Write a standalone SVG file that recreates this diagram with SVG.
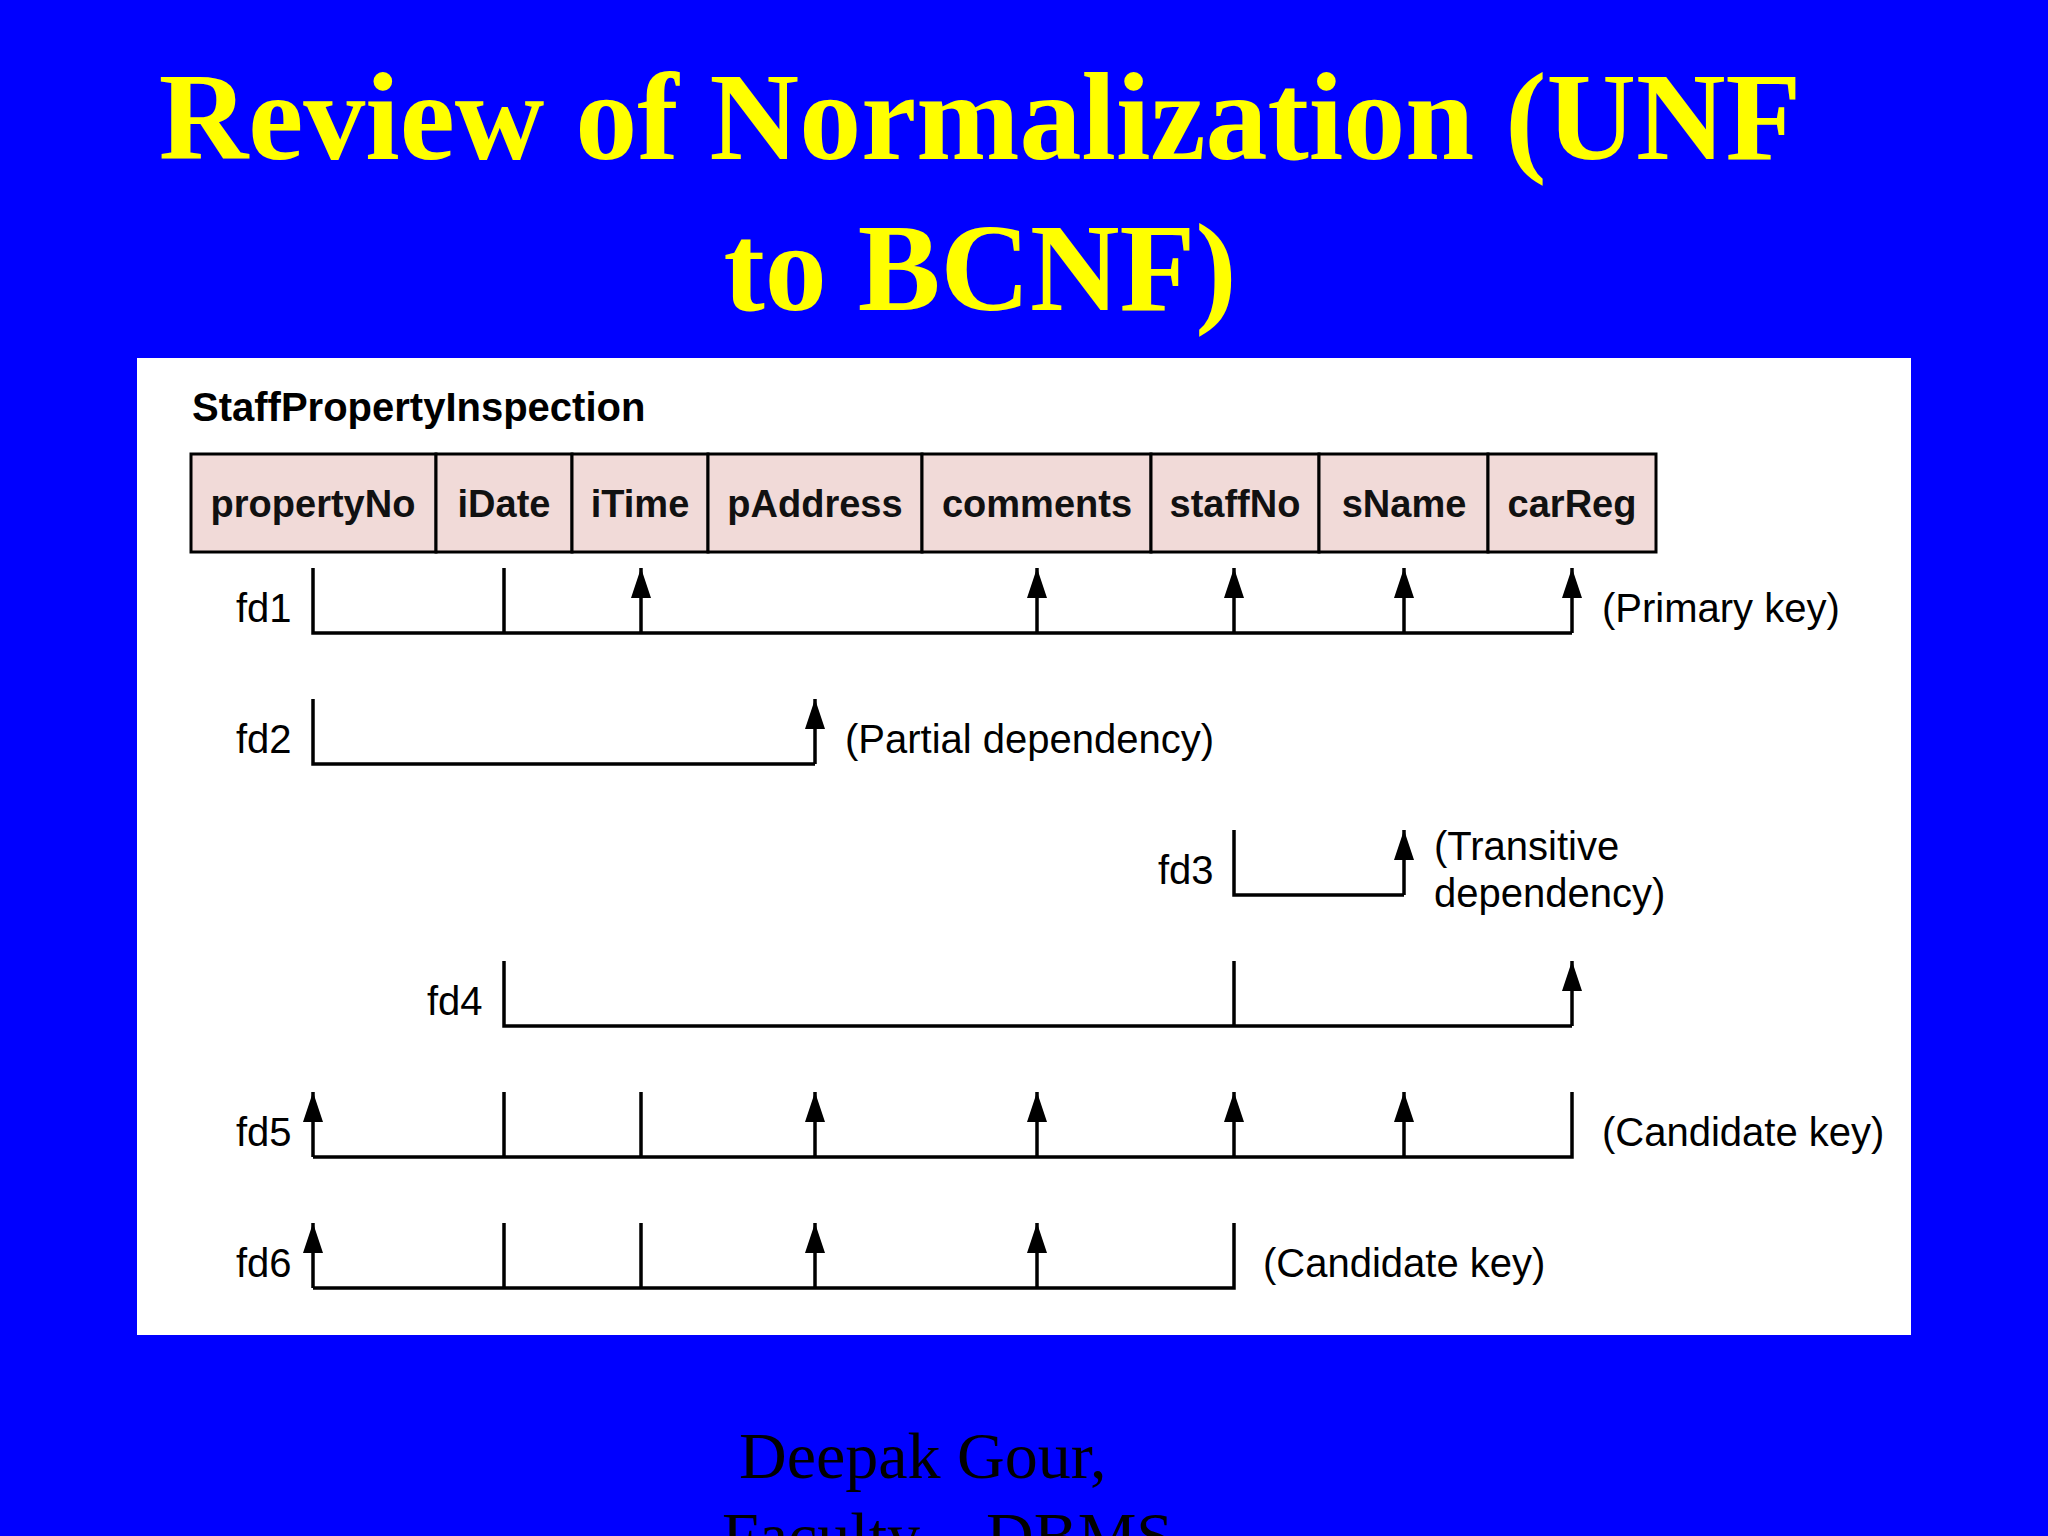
<svg xmlns="http://www.w3.org/2000/svg" width="2048" height="1536" viewBox="0 0 2048 1536">
<defs>
<marker id="ah" markerUnits="userSpaceOnUse" markerWidth="30" markerHeight="20" refX="30" refY="10" orient="auto" viewBox="0 0 30 20"><path d="M0,0 L30,10 L0,20 Z" fill="#000"/></marker>
<style>
.t{font-family:"Liberation Serif",serif;font-weight:bold;fill:#ffff00;font-size:124px}
.h{font-family:"Liberation Sans",Arial,sans-serif;font-size:40px;fill:#000}
.c{font-family:"Liberation Sans",Arial,sans-serif;font-size:38px;font-weight:bold;fill:#111}
.cell{fill:#f1dad8;stroke:#000;stroke-width:3}
.ln{stroke:#000;stroke-width:3.5;fill:none}
.ar{stroke:#000;stroke-width:3.5;fill:none;marker-end:url(#ah)}
</style>
</defs>
<rect width="2048" height="1536" fill="#0000ff"/>
<text class="t" x="980" y="159" text-anchor="middle">Review of Normalization (UNF</text>
<text class="t" x="980" y="310" text-anchor="middle">to BCNF)</text>
<rect x="137" y="358" width="1774" height="977" fill="#fff"/>
<text class="h" x="192" y="421" font-weight="bold" font-size="38">StaffPropertyInspection</text>
<g id="table">
<rect class="cell" x="191" y="454" width="245" height="98"/>
<rect class="cell" x="436" y="454" width="136" height="98"/>
<rect class="cell" x="572" y="454" width="136" height="98"/>
<rect class="cell" x="708" y="454" width="214" height="98"/>
<rect class="cell" x="922" y="454" width="229" height="98"/>
<rect class="cell" x="1151" y="454" width="168" height="98"/>
<rect class="cell" x="1319" y="454" width="169" height="98"/>
<rect class="cell" x="1488" y="454" width="168" height="98"/>
<g text-anchor="middle">
<text class="c" x="313" y="517">propertyNo</text>
<text class="c" x="504" y="517">iDate</text>
<text class="c" x="640" y="517">iTime</text>
<text class="c" x="815" y="517">pAddress</text>
<text class="c" x="1037" y="517">comments</text>
<text class="c" x="1235" y="517">staffNo</text>
<text class="c" x="1404" y="517">sName</text>
<text class="c" x="1572" y="517">carReg</text>
</g>
</g>
<g id="connectors">
<path class="ln" d="M313,568 V633 H1572 M504,568 V633"/>
<path class="ar" d="M641,633 V568"/><path class="ar" d="M1037,633 V568"/><path class="ar" d="M1234,633 V568"/><path class="ar" d="M1404,633 V568"/><path class="ar" d="M1572,633 V568"/>
<path class="ln" d="M313,699 V764 H815"/>
<path class="ar" d="M815,764 V699"/>
<path class="ln" d="M1234,830 V895 H1404"/>
<path class="ar" d="M1404,895 V830"/>
<path class="ln" d="M504,961 V1026 H1572 M1234,961 V1026"/>
<path class="ar" d="M1572,1026 V961"/>
<path class="ln" d="M313,1157 H1572 V1092 M504,1092 V1157 M641,1092 V1157"/>
<path class="ar" d="M313,1157 V1092"/><path class="ar" d="M815,1157 V1092"/><path class="ar" d="M1037,1157 V1092"/><path class="ar" d="M1234,1157 V1092"/><path class="ar" d="M1404,1157 V1092"/>
<path class="ln" d="M313,1288 H1234 V1223 M504,1223 V1288 M641,1223 V1288"/>
<path class="ar" d="M313,1288 V1223"/><path class="ar" d="M815,1288 V1223"/><path class="ar" d="M1037,1288 V1223"/>
</g>
<g id="labels">
<text class="h" x="236" y="622">fd1</text>
<text class="h" x="1602" y="622">(Primary key)</text>
<text class="h" x="236" y="753">fd2</text>
<text class="h" x="845" y="753">(Partial dependency)</text>
<text class="h" x="1158" y="884">fd3</text>
<text class="h" x="1434" y="860">(Transitive</text>
<text class="h" x="1434" y="907">dependency)</text>
<text class="h" x="427" y="1015">fd4</text>
<text class="h" x="236" y="1146">fd5</text>
<text class="h" x="1602" y="1146">(Candidate key)</text>
<text class="h" x="236" y="1277">fd6</text>
<text class="h" x="1263" y="1277">(Candidate key)</text>
</g>
<text x="739" y="1478" font-family="Liberation Serif,serif" font-size="66" fill="#000">Deepak Gour,</text>
<text x="722" y="1558" font-family="Liberation Serif,serif" font-size="66" fill="#000">Faculty – DBMS</text>
</svg>
